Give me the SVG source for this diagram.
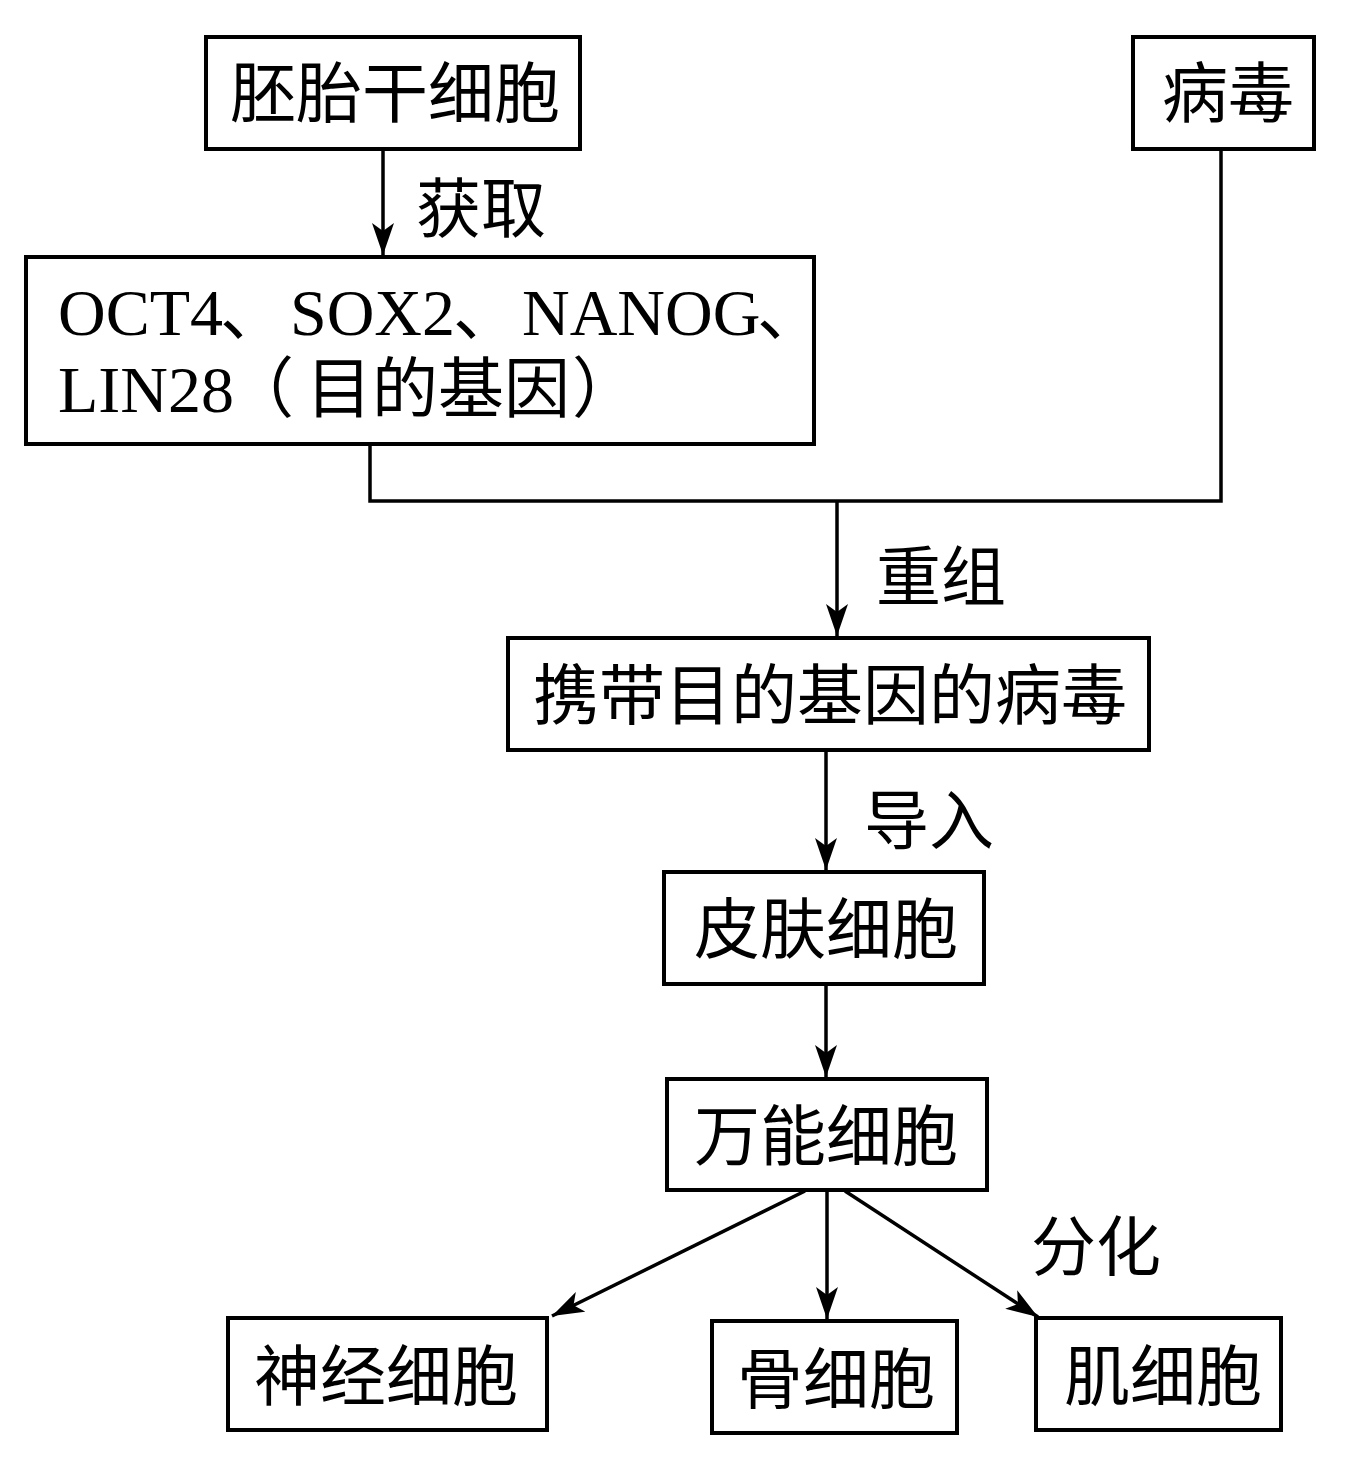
<svg xmlns="http://www.w3.org/2000/svg" width="1354" height="1469" viewBox="0 0 1354 1469">
<style>
.box{fill:#fff;stroke:#000;stroke-width:4}
.t{font-family:"Noto Sans CJK SC","Liberation Serif",serif;font-size:66px;fill:#000;text-anchor:middle}
.lbl{font-family:"Noto Sans CJK SC","Liberation Serif",serif;font-size:65px;fill:#000}
.gene{font-family:"Liberation Serif","Noto Sans CJK SC",serif;font-size:66px;fill:#000}
.c{fill:none;stroke:#000;stroke-width:3.5}
</style>
<defs>
<marker id="ah" viewBox="0 0 32 22" refX="32" refY="11" markerWidth="32" markerHeight="22" markerUnits="userSpaceOnUse" orient="auto">
<path d="M0,0 L32,11 L0,22 L8,11 Z" fill="#000"/>
</marker>
</defs>
<rect width="1354" height="1469" fill="#fff"/>
<g id="connectors">
<line class="c" x1="383" y1="149" x2="383" y2="255" marker-end="url(#ah)"/>
<polyline class="c" points="370,444 370,501 1221,501 1221,149"/>
<line class="c" x1="837" y1="501" x2="837" y2="636" marker-end="url(#ah)"/>
<line class="c" x1="826" y1="750" x2="826" y2="870" marker-end="url(#ah)"/>
<line class="c" x1="826" y1="984" x2="826" y2="1077" marker-end="url(#ah)"/>
<line class="c" x1="805" y1="1191" x2="552" y2="1316" marker-end="url(#ah)"/>
<line class="c" x1="827" y1="1191" x2="827" y2="1319" marker-end="url(#ah)"/>
<line class="c" x1="845" y1="1191" x2="1038" y2="1317" marker-end="url(#ah)"/>
</g>
<g id="labels">
<text class="lbl" x="416" y="232">获取</text>
<text class="lbl" x="876" y="600">重组</text>
<text class="lbl" x="864" y="844">导入</text>
<text class="lbl" x="1031" y="1270">分化</text>
</g>
<g id="n-embryo">
<rect class="box" x="206" y="37" width="374" height="112"/>
<text class="t" x="395" y="117">胚胎干细胞</text>
</g>
<g id="n-virus">
<rect class="box" x="1133" y="37" width="181" height="112"/>
<text class="t" x="1228" y="117">病毒</text>
</g>
<g id="n-genes">
<rect class="box" x="26" y="257" width="788" height="187"/>
<text class="gene" y="335"><tspan x="58">OCT4</tspan><tspan x="220">、</tspan><tspan x="290">SOX2</tspan><tspan x="453">、</tspan><tspan x="522">NANOG</tspan><tspan x="757">、</tspan></text>
<text class="gene" y="412"><tspan x="58">LIN28</tspan><tspan x="228">（</tspan><tspan x="306">目的基因</tspan><tspan x="572">）</tspan></text>
</g>
<g id="n-carrier">
<rect class="box" x="508" y="638" width="641" height="112"/>
<text class="t" x="830" y="719">携带目的基因的病毒</text>
</g>
<g id="n-skin">
<rect class="box" x="664" y="872" width="320" height="112"/>
<text class="t" x="826" y="953">皮肤细胞</text>
</g>
<g id="n-pluri">
<rect class="box" x="667" y="1079" width="320" height="111"/>
<text class="t" x="826" y="1160">万能细胞</text>
</g>
<g id="n-nerve">
<rect class="box" x="228" y="1318" width="319" height="112"/>
<text class="t" x="386" y="1400">神经细胞</text>
</g>
<g id="n-bone">
<rect class="box" x="712" y="1321" width="245" height="112"/>
<text class="t" x="836" y="1403">骨细胞</text>
</g>
<g id="n-muscle">
<rect class="box" x="1036" y="1318" width="245" height="112"/>
<text class="t" x="1163" y="1400">肌细胞</text>
</g>
</svg>
